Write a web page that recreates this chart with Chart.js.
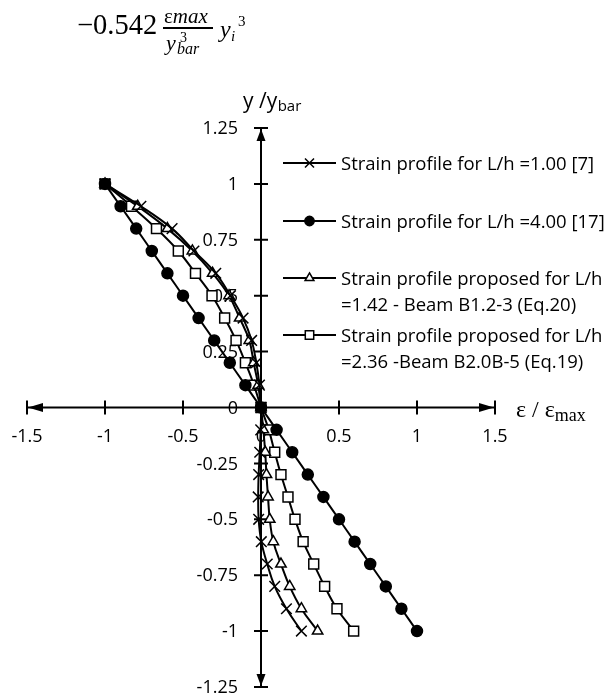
<!DOCTYPE html>
<html>
<head>
<meta charset="utf-8">
<script src="https://cdn.jsdelivr.net/npm/chart.js@4/dist/chart.umd.min.js"></script>
<style>
  html, body { margin: 0; padding: 0; background: #fff; }
  #wrap { position: relative; width: 608px; height: 696px; overflow: hidden; }
  #c { position: absolute; left: 0; top: 0; }
  .m { position: absolute; font-family: "Liberation Serif", "DejaVu Serif", serif; line-height: 1; white-space: nowrap; color: #000; }
  .it { font-style: italic; }
  #bar { position: absolute; left: 163px; top: 27px; width: 50px; height: 1.5px; background: #000; }
</style>
</head>
<body>
<div id="wrap">
  <canvas id="c" width="608" height="696"></canvas>
  <span class="m" style="left:77px; top:11px; font-size:28.5px;">−0.542</span>
  <span class="m" style="left:164px; top:6px; font-size:21px;">ε<span class="it">max</span></span>
  <div id="bar"></div>
  <span class="m it" style="left:166px; top:32px; font-size:22px;">y</span>
  <span class="m" style="left:180px; top:31px; font-size:14px;">3</span>
  <span class="m it" style="left:177px; top:41px; font-size:16px;">bar</span>
  <span class="m it" style="left:220px; top:17px; font-size:24px;">y</span>
  <span class="m it" style="left:231px; top:29px; font-size:15px;">i</span>
  <span class="m" style="left:238px; top:14px; font-size:15px;">3</span>
</div>
<script>
// ---------- data ----------
const yLevels      = [1, 0.9, 0.8, 0.7, 0.6, 0.5, 0.4, 0.3, 0.2, 0.1, 0, -0.1, -0.2, -0.3, -0.4, -0.5, -0.6, -0.7, -0.8, -0.9, -1];
const strainLh100  = [-1, -0.77, -0.57, -0.43, -0.29, -0.196, -0.115, -0.06, -0.03, -0.01, 0, -0.002, -0.008, -0.015, -0.018, -0.015, 0.002, 0.04, 0.088, 0.163, 0.259];
const strainLh400  = [-1, -0.9, -0.8, -0.7, -0.6, -0.5, -0.4, -0.3, -0.2, -0.1, 0, 0.1, 0.2, 0.3, 0.4, 0.5, 0.6, 0.7, 0.8, 0.9, 1];
const strainLh142  = [-1, -0.79, -0.6, -0.44, -0.31, -0.205, -0.137, -0.075, -0.047, -0.018, 0, 0.015, 0.027, 0.035, 0.045, 0.056, 0.079, 0.128, 0.184, 0.259, 0.363];
const strainLh236  = [-1, -0.83, -0.67, -0.53, -0.42, -0.314, -0.233, -0.16, -0.1, -0.045, 0, 0.05, 0.088, 0.128, 0.173, 0.218, 0.27, 0.338, 0.408, 0.487, 0.594];
const seriesNames  = [
  ['Strain profile for L/h =1.00 [7]'],
  ['Strain profile for L/h =4.00 [17]'],
  ['Strain profile proposed for L/h', '=1.42 - Beam B1.2-3 (Eq.20)'],
  ['Strain profile proposed for L/h', '=2.36 -Beam B2.0B-5 (Eq.19)']
];
const xTickValues  = [-1.5, -1, -0.5, 0, 0.5, 1, 1.5];
const xTickLabels  = ['-1.5', '-1', '-0.5', '0', '0.5', '1', '1.5'];
const yTickValues  = [-1.25, -1, -0.75, -0.5, -0.25, 0, 0.25, 0.5, 0.75, 1, 1.25];
const yTickLabels  = ['-1.25', '-1', '-0.75', '-0.5', '-0.25', '0', '0.25', '0.5', '0.75', '1', '1.25'];
const xTitle = ['ε / ε', 'max'];
const yTitle = ['y /y', 'bar'];

// ---------- build ----------
const toPts = xs => xs.map((v, i) => ({ x: v, y: yLevels[i] }));
const base = { showLine: true, borderColor: '#000', borderWidth: 2, tension: 0.4, pointBorderColor: '#000', pointBorderWidth: 1.5, pointHoverRadius: 0 };

const datasets = [
  Object.assign({}, base, { label: seriesNames[0].join(' '), data: toPts(strainLh100), pointStyle: 'crossRot', pointRadius: 7.5, pointBackgroundColor: '#000' }),
  Object.assign({}, base, { label: seriesNames[1].join(' '), data: toPts(strainLh400), pointStyle: 'circle', pointRadius: 5.5, pointBackgroundColor: '#000' }),
  Object.assign({}, base, { label: seriesNames[2].join(' '), data: toPts(strainLh142), pointStyle: 'triangle', pointRadius: 6, pointBackgroundColor: '#fff' }),
  Object.assign({}, base, { label: seriesNames[3].join(' '), data: toPts(strainLh236), pointStyle: 'rect', pointRadius: 7,
    pointBackgroundColor: c => (c.raw && (c.raw.y === 1 || c.raw.y === 0)) ? '#000' : '#fff' })
];

const axisDecor = {
  id: 'axisDecor',
  beforeDatasetsDraw(chart) {
    const { ctx, scales: { x, y } } = chart;
    const x0 = x.getPixelForValue(0), y0 = y.getPixelForValue(0);
    const xl = x.getPixelForValue(x.min), xr = x.getPixelForValue(x.max);
    const yt = y.getPixelForValue(y.max), yb = y.getPixelForValue(y.min);
    ctx.save();
    // y tick labels (left of the centred vertical axis)
    ctx.fillStyle = '#000';
    ctx.font = '18px "Open Sans"';
    ctx.textAlign = 'right';
    ctx.textBaseline = 'middle';
    y.ticks.forEach(t => ctx.fillText(yTickLabels[yTickValues.indexOf(t.value)], x0 - 23, y.getPixelForValue(t.value) + 1));
    // axes
    ctx.strokeStyle = '#000'; ctx.lineWidth = 2;
    ctx.beginPath();
    ctx.moveTo(xl, y0); ctx.lineTo(xr, y0);
    ctx.moveTo(x0, yt); ctx.lineTo(x0, yb);
    x.ticks.forEach(t => { const p = x.getPixelForValue(t.value); ctx.moveTo(p, y0 - 7); ctx.lineTo(p, y0 + 7); });
    y.ticks.forEach(t => { const p = y.getPixelForValue(t.value); ctx.moveTo(x0 - 7, p); ctx.lineTo(x0 + 7, p); });
    ctx.stroke();
    const head = (tx, ty, dx, dy, len, hw) => {
      ctx.beginPath();
      ctx.moveTo(tx, ty);
      ctx.lineTo(tx - dx * len - dy * hw, ty - dy * len - dx * hw);
      ctx.lineTo(tx - dx * len + dy * hw, ty - dy * len + dx * hw);
      ctx.closePath(); ctx.fill();
    };
    head(xr - 1, y0, 1, 0, 15, 4.5);
    head(xl + 1, y0, -1, 0, 15, 4.5);
    head(x0, yt + 1, 0, -1, 12, 4.5);
    head(x0, yb - 1, 0, 1, 12, 4.5);
    ctx.restore();
  },
  afterDraw(chart) {
    const { ctx } = chart;
    ctx.save();
    ctx.fillStyle = '#000';
    ctx.textBaseline = 'alphabetic';
    ctx.textAlign = 'left';
    // y axis title
    ctx.font = '21px "Open Sans"';
    ctx.fillText(yTitle[0], 243, 108);
    let w = ctx.measureText(yTitle[0]).width;
    ctx.font = '15px "Open Sans"';
    ctx.fillText(yTitle[1], 243 + w + 0.5, 111);
    // x axis title
    ctx.font = '24px "Liberation Serif"';
    ctx.fillText(xTitle[0], 516, 417);
    w = ctx.measureText(xTitle[0]).width;
    ctx.font = '18px "Liberation Serif"';
    ctx.fillText(xTitle[1], 516 + w, 420.5);
    // legend
    const rows = [163, 221, 278, 335];
    const lineGap = 26;
    chart.data.datasets.forEach((ds, i) => {
      const yy = rows[i];
      ctx.strokeStyle = '#000'; ctx.lineWidth = 2;
      ctx.beginPath(); ctx.moveTo(283, yy); ctx.lineTo(336, yy); ctx.stroke();
      ctx.fillStyle = typeof ds.pointBackgroundColor === 'function' ? '#fff' : ds.pointBackgroundColor;
      ctx.strokeStyle = '#000'; ctx.lineWidth = 1.5;
      Chart.helpers.drawPoint(ctx, { pointStyle: ds.pointStyle, radius: ds.pointRadius * 0.85, rotation: 0, borderWidth: 1.5 }, 309.5, yy);
      ctx.fillStyle = '#000';
      ctx.font = '18.5px "Open Sans"';
      seriesNames[i].forEach((t, k) => ctx.fillText(t, 341, yy + 6.5 + k * lineGap));
    });
    ctx.restore();
  }
};

new Chart(document.getElementById('c'), {
  type: 'scatter',
  data: { datasets },
  options: {
    responsive: false,
    animation: false,
    devicePixelRatio: 1,
    layout: { padding: { left: 27, right: 113, top: 128, bottom: 8 } },
    plugins: { legend: { display: false }, tooltip: { enabled: false } },
    elements: { line: { fill: false } },
    scales: {
      x: {
        type: 'linear', min: -1.5, max: 1.5,
        position: { y: 0 },
        afterBuildTicks: s => { s.ticks = xTickValues.map(v => ({ value: v })); },
        afterFit: s => { s.paddingLeft = 0; s.paddingRight = 0; s.paddingTop = 0; s.paddingBottom = 0; },
        grid: { display: true, drawOnChartArea: false, drawTicks: false },
        border: { display: false },
        ticks: { color: '#000', padding: 19, font: { family: 'Open Sans', size: 18 }, maxRotation: 0, autoSkip: false,
                 callback: v => xTickLabels[xTickValues.indexOf(v)] }
      },
      y: {
        type: 'linear', min: -1.25, max: 1.25,
        position: { x: 0 },
        afterBuildTicks: s => { s.ticks = yTickValues.map(v => ({ value: v })); },
        afterFit: s => { s.paddingLeft = 0; s.paddingRight = 0; s.paddingTop = 0; s.paddingBottom = 0; },
        grid: { display: true, drawOnChartArea: false, drawTicks: false },
        border: { display: false },
        ticks: { display: false, autoSkip: false, callback: v => yTickLabels[yTickValues.indexOf(v)] }
      }
    }
  },
  plugins: [axisDecor]
});
</script>
</body>
</html>
